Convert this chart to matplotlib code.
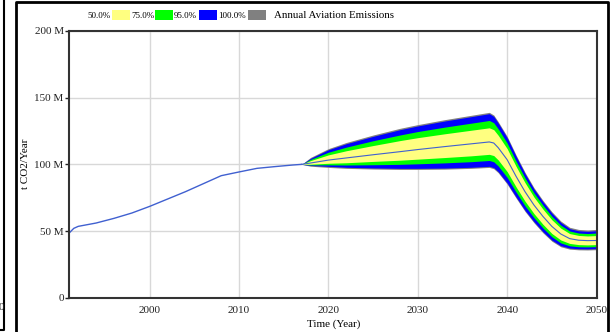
import matplotlib
matplotlib.use("Agg")
import matplotlib.pyplot as plt
from matplotlib.patches import Rectangle
from matplotlib.lines import Line2D
from matplotlib.ticker import FuncFormatter

plt.rcParams['font.family'] = ['Liberation Serif', 'DejaVu Serif']

# historical emissions (million t CO2 / year)
hist_years = [1991.0, 1991.5, 1992, 1994, 1996, 1998, 2000, 2002, 2004, 2006, 2008,
              2010, 2012, 2014, 2016, 2017]
hist_vals = [48.6, 52.0, 53.5, 56.0, 59.5, 63.5, 68.5, 74.0, 79.5, 85.5, 91.5,
             94.3, 97.0, 98.3, 99.5, 100.0]

# sensitivity run envelope
years = [2017, 2018, 2020, 2022, 2025, 2028, 2030, 2033, 2036, 2038, 2038.5, 2039, 2040,
         2041, 2042, 2043, 2044, 2045, 2046, 2047, 2048, 2049, 2050]
p_max = [100, 105.2, 111.8, 116.4, 122, 127, 129.8, 133.5, 136.8, 139, 137, 132, 121,
         107, 94, 82.5, 73, 64.5, 57.5, 52.8, 51.2, 50.8, 51.2]
p_hi95 = [100, 104.5, 111, 115.5, 121, 126, 128.8, 132.5, 135.8, 138, 136, 131, 120,
          106, 93, 81.5, 72, 63.5, 56.5, 51.8, 50.2, 49.8, 50.2]
p_hi75 = [100, 103.7, 109.1, 112.9, 117.7, 122.0, 124.6, 127.9, 130.9, 132.9, 131.2, 126.6, 116.0,
          102.4, 89.8, 78.6, 69.4, 61.1, 54.4, 50.0, 48.5, 48.1, 48.5]
p_hi50 = [100, 102.8, 107.1, 110.2, 114.1, 117.8, 120.0, 122.9, 125.6, 127.4, 126.0, 121.8, 111.8,
          98.5, 86.3, 75.5, 66.5, 58.5, 52.2, 48.1, 46.7, 46.3, 46.6]
p_med = [100, 101, 103.2, 104.8, 107.2, 109.5, 111.1, 113.3, 115.4, 116.8, 116.0, 112.5, 103.5,
         91, 79.5, 69.5, 61, 53.5, 47.8, 44.3, 43.1, 42.8, 42.9]
p_lo50 = [100, 100.1, 100.8, 101.2, 102.2, 103.1, 103.9, 105.1, 106.4, 107.5, 106.6, 103.3, 94.6,
          83.1, 72.4, 63.1, 55.1, 48.2, 43.3, 40.7, 39.8, 39.6, 39.8]
p_lo75 = [100, 99.6, 99.6, 99.5, 99.7, 100.0, 100.4, 101.1, 102.0, 102.9, 101.9, 98.8, 90.2,
          79.2, 68.9, 60.0, 52.3, 45.7, 41.1, 38.9, 38.2, 38.1, 38.3]
p_lo95 = [100, 99.2, 98.5, 97.8, 97.3, 97.0, 97.0, 97.2, 97.8, 98.5, 97.5, 94.5, 86,
          75.5, 65.5, 57, 49.5, 43.2, 39, 37.2, 36.7, 36.6, 36.8]
p_min = [100, 98.6, 97.7, 97.0, 96.5, 96.2, 96.2, 96.4, 97.0, 97.7, 96.7, 93.7, 85.2,
         74.7, 64.7, 56.2, 48.7, 42.4, 38.2, 36.4, 35.9, 35.8, 36.0]

legend_labels = ['50.0%', '75.0%', '95.0%', '100.0%']
band_colors = ['#ffff80', '#00ff00', '#0000ff', '#808080']
line_color = '#4060d0'

W, H = 613, 332
fig = plt.figure(figsize=(W / 100, H / 100), dpi=100)
ax = fig.add_axes([69.3 / W, 1 - 297.7 / H, (596.5 - 69.3) / W, (297.7 - 31) / H])

# bands, outermost first
ax.fill_between(years, p_min, p_max, color=band_colors[3], lw=0)
ax.fill_between(years, p_lo95, p_hi95, color=band_colors[2], lw=0)
ax.fill_between(years, p_lo75, p_hi75, color=band_colors[1], lw=0)
ax.fill_between(years, p_lo50, p_hi50, color=band_colors[0], lw=0)
ax.plot(years, p_med, color=line_color, lw=0.8)
ax.plot(hist_years, hist_vals, color=line_color, lw=1.0)

ax.set_xlim(1991, 2050)
ax.set_ylim(0, 200)
ax.set_xticks([2000, 2010, 2020, 2030, 2040, 2050])
ax.set_yticks([0, 50, 100, 150, 200])
ax.yaxis.set_major_formatter(FuncFormatter(lambda v, p: '0' if v == 0 else f'{v:.0f} M'))
ax.grid(True, color='#d8d8d8', lw=1)
ax.set_axisbelow(True)
ax.tick_params(axis='x', length=0, labelsize=8, pad=6, colors='#222222')
ax.tick_params(axis='y', length=3, width=1, labelsize=8, pad=1, colors='#222222')
for s in ax.spines.values():
    s.set_linewidth(1.5)
    s.set_color('#333333')

fig.text(25 / W, 1 - 164 / H, 't CO2/Year', rotation=90, ha='center', va='center', fontsize=8)
fig.text(334 / W, 1 - 324 / H, 'Time (Year)', ha='center', va='center', fontsize=8)

# legend row across the top
def px(x, y):
    return x / W, 1 - y / H

legend_pos = [(87, 112), (131, 155), (174, 199), (218, 248)]
for (tx, sx), lab, col in zip(legend_pos, legend_labels, band_colors):
    fig.text(*px(tx, 15.5), lab, fontsize=6.5, ha='left', va='center')
    fig.patches.append(Rectangle(px(sx, 20), 18 / W, 10 / H, transform=fig.transFigure,
                                 facecolor=col, edgecolor='none'))
fig.text(*px(274, 15.5), 'Annual Aviation Emissions', fontsize=7.8, ha='left', va='center')

# panel frames
fig.lines.append(Line2D([16 / W, 16 / W, 608 / W, 608 / W], [0, 1 - 1.5 / H, 1 - 1.5 / H, 0],
                        transform=fig.transFigure, color='black', lw=2))
fig.lines.append(Line2D([0, 4 / W, 4 / W], [1 - 330 / H, 1 - 330 / H, 1],
                        transform=fig.transFigure, color='black', lw=1.5))
fig.text(*px(1, 307), '0', fontsize=8, ha='center', va='center', color='#222222')

fig.savefig('out.png', dpi=100)
